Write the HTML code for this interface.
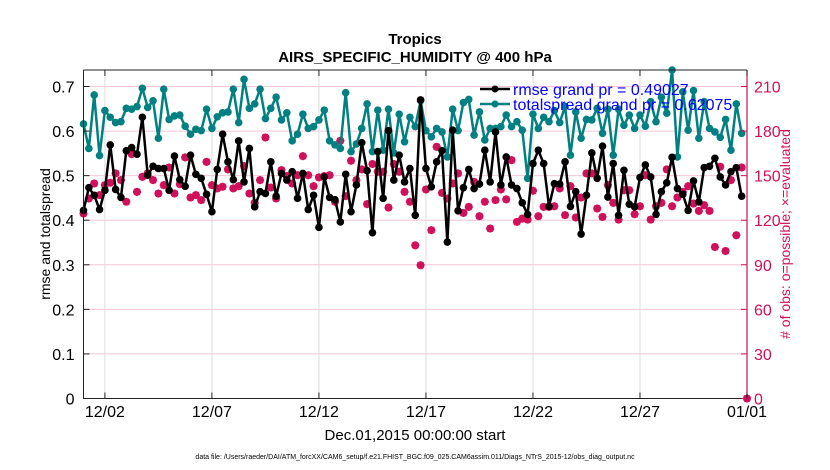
<!DOCTYPE html>
<html><head><meta charset="utf-8">
<style>
body{margin:0;background:#fff;}
svg{display:block;font-family:"Liberation Sans",sans-serif;}
</style></head>
<body>
<svg id="chart" width="830" height="470" viewBox="0 0 830 470">
<rect x="0" y="0" width="830" height="470" fill="#fff"/>
<g id="grid"></g>
<g id="series"></g>
<g id="axes"></g>
<text x="415" y="44" text-anchor="middle" font-size="15" font-weight="bold">Tropics</text>
<text x="415" y="62" text-anchor="middle" font-size="15" font-weight="bold">AIRS_SPECIFIC_HUMIDITY @ 400 hPa</text>
<text x="415" y="440" text-anchor="middle" font-size="15">Dec.01,2015 00:00:00 start</text>
<text transform="translate(50,234) rotate(-90)" text-anchor="middle" font-size="14">rmse and totalspread</text>
<text transform="translate(790,234) rotate(-90)" text-anchor="middle" font-size="14" fill="#d0105a"># of obs: o=possible; ×=evaluated</text>
<text x="415" y="459" text-anchor="middle" font-size="7">data file: /Users/raeder/DAI/ATM_forcXX/CAM6_setup/f.e21.FHIST_BGC.f09_025.CAM6assim.011/Diags_NTrS_2015-12/obs_diag_output.nc</text>
<g>
<line x1="480" y1="89" x2="510" y2="89" stroke="#000" stroke-width="2.5"/>
<circle cx="495" cy="89" r="3.5" fill="#000"/>
<text x="513" y="95" font-size="16" fill="#0000ff">rmse grand pr = 0.49027</text>
<line x1="480" y1="104" x2="510" y2="104" stroke="#008080" stroke-width="2.5"/>
<circle cx="495" cy="104" r="3.5" fill="#008080"/>
<text x="513" y="110" font-size="16" fill="#0000ff">totalspread grand pr = 0.62075</text>
</g>
</svg>
<script>
const rmse=[0.422,0.473,0.456,0.424,0.467,0.569,0.469,0.451,0.556,0.563,0.548,0.631,0.501,0.521,0.516,0.516,0.467,0.544,0.491,0.476,0.546,0.503,0.494,0.458,0.419,0.514,0.593,0.531,0.491,0.578,0.486,0.561,
0.430,0.464,0.460,0.531,0.454,0.505,0.490,0.509,0.449,0.505,0.424,0.456,0.384,0.497,0.451,0.446,0.396,0.503,0.419,0.479,0.574,0.511,0.372,0.554,0.449,0.601,0.490,0.546,0.486,0.516,0.411,
0.670,0.516,0.475,0.531,0.556,0.351,0.602,0.421,0.473,0.514,0.471,0.481,0.557,0.486,0.598,0.479,0.542,0.479,0.471,0.439,0.413,0.527,0.557,0.527,0.431,0.482,0.481,0.531,0.431,0.464,0.369,0.456,
0.551,0.494,0.566,0.452,0.527,0.411,0.512,0.436,0.430,0.496,0.524,0.497,0.413,0.464,0.484,0.541,0.471,0.458,0.422,0.488,0.441,0.518,0.521,0.539,0.497,0.479,0.509,0.518,0.454];
const spread=[0.616,0.561,0.681,0.545,0.646,0.631,0.619,0.621,0.651,0.649,0.655,0.696,0.653,0.668,0.584,0.694,0.626,0.634,0.636,0.611,0.593,0.604,0.601,0.649,0.606,0.632,0.641,0.643,0.694,0.619,0.716,0.651,
0.661,0.694,0.628,0.651,0.676,0.625,0.641,0.578,0.593,0.638,0.606,0.610,0.625,0.647,0.578,0.569,0.561,0.686,0.554,0.571,0.606,0.661,0.554,0.647,0.557,0.649,0.551,0.638,0.576,0.631,0.610,
0.668,0.601,0.587,0.606,0.598,0.542,0.649,0.601,0.664,0.671,0.591,0.643,0.580,0.606,0.606,0.610,0.636,0.610,0.621,0.602,0.494,0.638,0.606,0.631,0.621,0.646,0.619,0.655,0.546,0.643,0.584,0.626,
0.625,0.651,0.595,0.649,0.546,0.649,0.613,0.636,0.606,0.636,0.611,0.666,0.621,0.676,0.640,0.737,0.542,0.688,0.602,0.691,0.584,0.666,0.606,0.598,0.586,0.626,0.557,0.661,0.595];
const nobs=[124.5,134.6,144.7,136.9,143.6,145.2,151.5,147,132.4,164.5,139.1,149.2,151.5,147,138,143.6,155.5,138,144.3,162.3,135.3,136.9,133.5,159.3,143.6,141.4,142.5,154.2,141.4,142.9,156.4,138,
131.7,147,175.7,142,134.6,153.7,149.7,144.7,150.3,163.1,150.3,142.9,148.8,149.7,150.3,132.4,173.5,136.2,160,147,154.2,130.8,157.8,152.6,152.6,128.5,157.8,152.6,139.1,132.4,103.1,
89.7,140.7,113.3,169.4,138.4,134.6,144.7,151.5,124.9,129,145.8,122.7,132.4,114.4,133.5,140.7,134,160.4,118.9,121.1,120.4,139.8,122.7,129,129,129.4,141.4,123.4,142.9,121.8,135.3,151.5,
151.5,127.9,122.2,143.6,131.7,120.4,140.2,140.2,124,129.4,150.3,120.4,129.4,131.7,154.2,129.4,135.3,139.1,142.9,131.2,126.3,130.1,126.3,102,156,99.3,147,109.9,155.5,0];
const xTickLabels=["12/02","12/07","12/12","12/17","12/22","12/27","01/01"];
const xTickDays=[1,6,11,16,21,26,31];
const yTicks=[0,0.1,0.2,0.3,0.4,0.5,0.6,0.7];
const yTickLabels=["0","0.1","0.2","0.3","0.4","0.5","0.6","0.7"];
const rTicks=[0,30,60,90,120,150,180,210];

const L=83.5,R=747,T=70,B=398.5,YMAX=0.737,RMAX=221.1,DAYS=31;
const xs=d=>L+(R-L)*d/DAYS;
const ys=v=>B-(B-T)*v/YMAX;
const yr=v=>B-(B-T)*v/RMAX;
const NS="http://www.w3.org/2000/svg";
function mk(tag,attrs,parent){const e=document.createElementNS(NS,tag);for(const k in attrs)e.setAttribute(k,attrs[k]);parent.appendChild(e);return e;}
const grid=document.getElementById('grid'),ser=document.getElementById('series'),ax=document.getElementById('axes');
const CR="#d0105a";
rTicks.forEach(v=>{if(v>0){const g=mk('line',{x1:L,x2:R,y1:yr(v),y2:yr(v),stroke:"#f6c6d8","stroke-width":1},grid);

}});
xTickDays.forEach(d=>{const g=mk('line',{x1:xs(d),x2:xs(d),y1:T,y2:B,stroke:"#dddddd","stroke-width":1},grid);

});
nobs.forEach((v,i)=>{const x=xs(i*0.25),y=yr(v);
const g=mk('g',{},ser);


mk('circle',{cx:x,cy:y,r:3.3,fill:"none",stroke:CR,"stroke-width":1.2},g);
mk('path',{d:`M${x-4},${y}H${x+4}M${x},${y-4}V${y+4}M${x-2.9},${y-2.9}L${x+2.9},${y+2.9}M${x-2.9},${y+2.9}L${x+2.9},${y-2.9}`,stroke:CR,"stroke-width":2},g);
mk('circle',{cx:x,cy:y,r:2.2,fill:CR},g);});
function line(arr,col,name){
const p=mk('polyline',{points:arr.map((v,i)=>xs(i*0.25)+","+ys(v)).join(" "),fill:"none",stroke:col,"stroke-width":2.5,"stroke-linejoin":"round"},ser);


arr.forEach((v,i)=>{const c=mk('circle',{cx:xs(i*0.25),cy:ys(v),r:3.8,fill:col},ser);

});}
line(spread,"#008080","totalspread");
line(rmse,"#000000","rmse");
const bx=mk('path',{d:`M${L},${T}H${R}M${L},${T}V${B}H${R}`,stroke:"#222",fill:"none","stroke-width":1},ax);


const ra=mk('line',{x1:R,x2:R,y1:T,y2:B,stroke:CR,"stroke-width":1.2},ax);


yTicks.forEach((v,i)=>{mk('line',{x1:L,x2:L+6,y1:ys(v),y2:ys(v),stroke:"#222"},ax);
const t=mk('text',{x:L-9,y:ys(v)+6,"text-anchor":"end","font-size":16},ax);t.textContent=yTickLabels[i];

});
rTicks.forEach(v=>{mk('line',{x1:R-6,x2:R,y1:yr(v),y2:yr(v),stroke:CR},ax);
const t=mk('text',{x:R+7,y:yr(v)+6,"font-size":16,fill:CR},ax);t.textContent=v;

});
xTickDays.forEach((d,i)=>{mk('line',{x1:xs(d),x2:xs(d),y1:B,y2:B-6,stroke:"#222"},ax);mk('line',{x1:xs(d),x2:xs(d),y1:T,y2:T+6,stroke:"#222"},ax);
const t=mk('text',{x:xs(d),y:417,"text-anchor":"middle","font-size":16},ax);t.textContent=xTickLabels[i];

});
</script>
</body></html>
